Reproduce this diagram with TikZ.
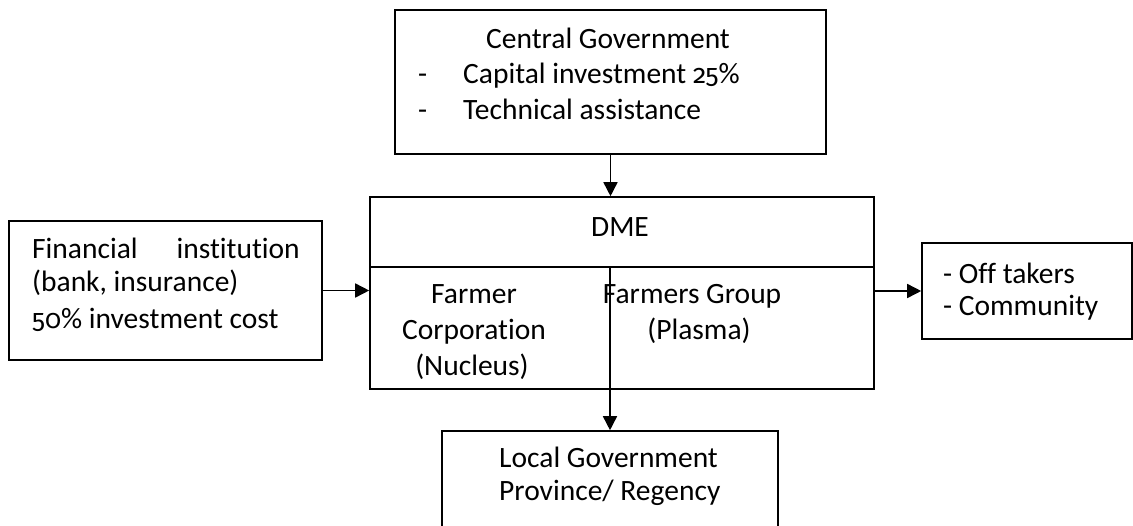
\documentclass[tikz,border=0pt]{standalone}
\usepackage{fontspec}
\setmainfont{Carlito}[Ligatures={NoCommon}]
\newfontfamily\osfnum{Fira Sans}[Numbers=OldStyle,Scale=0.9]
\newcommand{\fig}[1]{{\osfnum #1}}
\usetikzlibrary{arrows.meta}
\begin{document}
\begin{tikzpicture}[x=1pt,y=-1pt,
  every node/.style={font=\fontsize{29.5}{35}\selectfont},
  frame/.style={draw, line width=1.6pt, inner sep=0pt},
  txt/.style={inner sep=0pt},
  link/.style={line width=1.6pt, -{Triangle[length=14pt,width=14pt]}}]
\useasboundingbox (0,0) rectangle (1133,525);

% boxes
\node[frame, minimum width=431pt, minimum height=144pt] (central) at (610.5,82) {};
\node[frame, minimum width=504pt, minimum height=192pt] (dme) at (622,293) {};
\node[frame, minimum width=313pt, minimum height=139pt] (fin) at (165.5,290.5) {};
\node[frame, minimum width=210pt, minimum height=96pt] (off) at (1027,291) {};
\node[frame, minimum width=336pt, minimum height=100pt] (local) at (610,481) {};

% DME header divider
\coordinate (divL) at (370,267);
\coordinate (divR) at (874,267);
\draw[line width=1.6pt] (divL) -- (divR);

% connectors
\draw[link] (central.south) -- (central.south |- dme.north);
\draw[link] (fin.east) -- (fin.east -| dme.west);
\draw[link] (dme.east |- off.west) -- (off.west);
\draw[link] (local.north |- divL) -- (local.north);

% Central Government
\node[txt, anchor=base] (cgT) at (608,48) {Central Government};
\node[txt, anchor=base west] (cgD1) at (418,83) {-};
\node[txt, anchor=base west] (cgL1) at (463,83) {Capital investment \fig{25}\%};
\node[txt, anchor=base west] (cgD2) at (418,119) {-};
\node[txt, anchor=base west] (cgL2) at (463,119) {Technical assistance};

% Financial institution
\node[txt, anchor=base west] (fiA) at (32,258) {Financial};
\node[txt, anchor=base east] (fiB) at (300,258) {institution};
\node[txt, anchor=base west] (fiC) at (32,291) {(bank, insurance)};
\node[txt, anchor=base west] (fiD) at (32,328) {\fig{50}\% investment cost};

% DME
\node[txt, anchor=base] (dmeT) at (620,236) {DME};
\node[txt, anchor=base] (nuc1) at (474,303) {Farmer};
\node[txt, anchor=base] (nuc2) at (474,339) {Corporation};
\node[txt, anchor=base] (nuc3) at (472,375) {(Nucleus)};
\node[txt, anchor=base] (pla1) at (692,303) {Farmers Group};
\node[txt, anchor=base] (pla2) at (699,339) {(Plasma)};

% Off takers
\node[txt, anchor=base west] (offA) at (943,283) {- Off takers};
\node[txt, anchor=base west] (offB) at (943,315) {- Community};

% Local Government
\node[txt, anchor=base west] (lgA) at (499,467) {Local Government};
\node[txt, anchor=base west] (lgB) at (499,500) {Province/ Regency};
\end{tikzpicture}
\end{document}
